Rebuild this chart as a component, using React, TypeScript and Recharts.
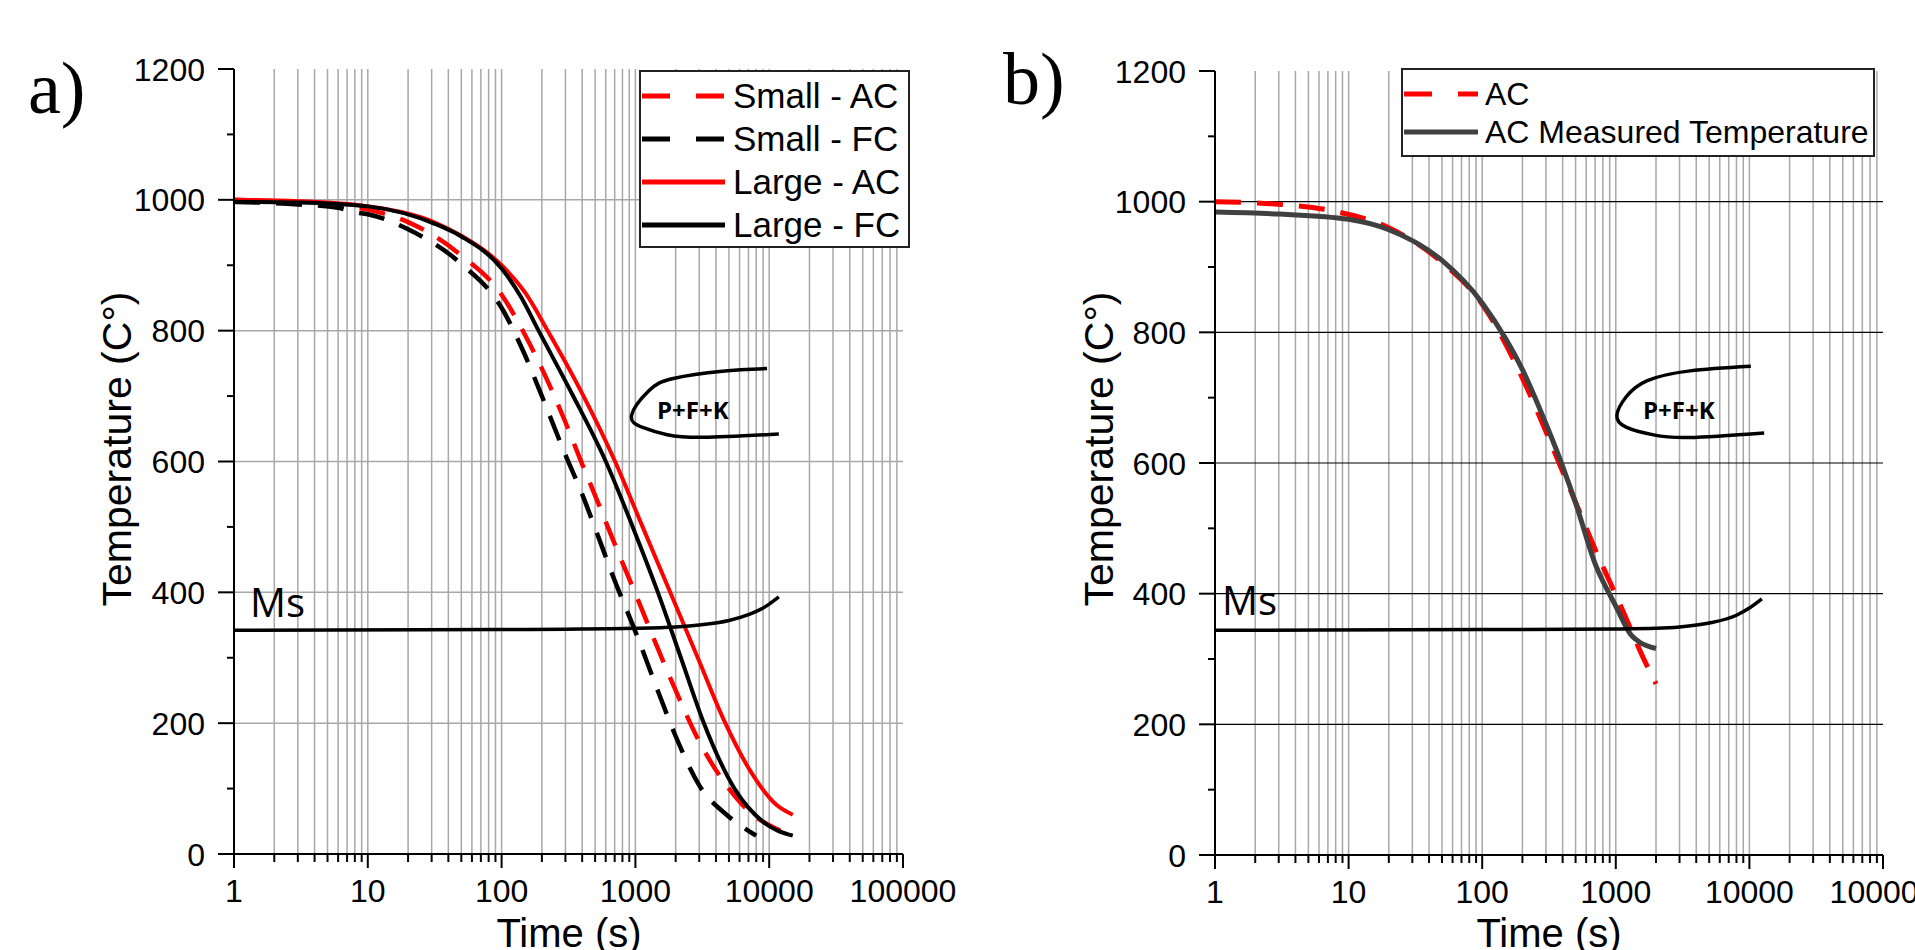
import React from 'react';
import { LineChart, Line, XAxis, YAxis, CartesianGrid, Legend } from 'recharts';

// ---------- ticks ----------
const xMajorTicks = [1, 10, 100, 1000, 10000, 100000];
const xMinorTicks = [
  2, 3, 4, 5, 6, 7, 8, 9,
  20, 30, 40, 50, 60, 70, 80, 90,
  200, 300, 400, 500, 600, 700, 800, 900,
  2000, 3000, 4000, 5000, 6000, 7000, 8000, 9000,
  20000, 30000, 40000, 50000, 60000, 70000, 80000, 90000,
];
const yMajorTicks = [0, 200, 400, 600, 800, 1000, 1200];
const yMinorTicks = [100, 300, 500, 700, 900, 1100];
const yGridValues = [200, 400, 600, 800, 1000];

const xAllTicks = [...xMajorTicks, ...xMinorTicks].sort((a, b) => a - b);
const xGridValues = xAllTicks.filter((v) => v !== 1 && v !== 100000);
const yAllTicks = [...yMajorTicks, ...yMinorTicks].sort((a, b) => a - b);

type Pt = { t: number; T: number };

// ---------- panel a data ----------
const smallAC: Pt[] = [
  { t: 1, T: 1000 }, { t: 2, T: 998 }, { t: 5, T: 993 }, { t: 10, T: 985 },
  { t: 20, T: 966 }, { t: 50, T: 915 }, { t: 100, T: 855 }, { t: 150, T: 793 },
  { t: 200, T: 742 }, { t: 300, T: 660 }, { t: 400, T: 596 }, { t: 500, T: 548 },
  { t: 700, T: 474 }, { t: 1000, T: 398 }, { t: 1500, T: 310 }, { t: 2000, T: 250 },
  { t: 3000, T: 172 }, { t: 5000, T: 100 }, { t: 8000, T: 56 }, { t: 10000, T: 44 },
  { t: 15000, T: 28 },
];
const smallFC: Pt[] = [
  { t: 1, T: 997 }, { t: 3, T: 993 }, { t: 6, T: 988 }, { t: 8, T: 981 },
  { t: 10, T: 978 }, { t: 20, T: 955 }, { t: 50, T: 902 }, { t: 100, T: 835 },
  { t: 150, T: 762 }, { t: 200, T: 700 }, { t: 300, T: 610 }, { t: 400, T: 550 },
  { t: 500, T: 498 }, { t: 700, T: 418 }, { t: 1000, T: 340 }, { t: 1500, T: 245 },
  { t: 2000, T: 180 }, { t: 3000, T: 105 }, { t: 5000, T: 57 }, { t: 8000, T: 28 },
];
const largeAC: Pt[] = [
  { t: 1, T: 1000 }, { t: 3, T: 998 }, { t: 10, T: 990 }, { t: 32, T: 965 },
  { t: 50, T: 945 }, { t: 100, T: 900 }, { t: 150, T: 858 }, { t: 221, T: 800 },
  { t: 398, T: 705 }, { t: 705, T: 600 }, { t: 1122, T: 502 }, { t: 1820, T: 400 },
  { t: 2951, T: 298 }, { t: 4700, T: 200 }, { t: 7079, T: 130 }, { t: 11500, T: 74 },
  { t: 15000, T: 60 },
];
const largeFC: Pt[] = [
  { t: 1, T: 997 }, { t: 3, T: 996 }, { t: 10, T: 990 }, { t: 32, T: 963 },
  { t: 50, T: 944 }, { t: 100, T: 895 }, { t: 140, T: 851 }, { t: 189, T: 800 },
  { t: 339, T: 702 }, { t: 601, T: 600 }, { t: 955, T: 500 }, { t: 1473, T: 400 },
  { t: 2188, T: 300 }, { t: 3250, T: 200 }, { t: 5500, T: 100 }, { t: 8900, T: 50 },
  { t: 15000, T: 28 },
];
const msLineA: Pt[] = [
  { t: 1, T: 342 }, { t: 100, T: 343 }, { t: 1000, T: 345 }, { t: 2000, T: 347 },
  { t: 3000, T: 350 }, { t: 5000, T: 357 }, { t: 7000, T: 366 }, { t: 9000, T: 376 },
  { t: 10000, T: 382 }, { t: 11800, T: 393 },
];
const cCurveA: Pt[] = [
  { t: 9630, T: 742 }, { t: 4460, T: 738 }, { t: 1918, T: 727 }, { t: 1260, T: 708 },
  { t: 937, T: 671 }, { t: 1132, T: 652 }, { t: 1727, T: 641 }, { t: 3250, T: 637 },
  { t: 11800, T: 642 },
];

// ---------- panel b data ----------
const acB: Pt[] = [
  { t: 1, T: 1000 }, { t: 3, T: 996 }, { t: 8, T: 985 }, { t: 20, T: 960 },
  { t: 50, T: 907 }, { t: 100, T: 843 }, { t: 200, T: 730 }, { t: 300, T: 648 },
  { t: 400, T: 587 }, { t: 500, T: 540 }, { t: 700, T: 468 }, { t: 1000, T: 398 },
  { t: 1300, T: 345 }, { t: 1500, T: 315 }, { t: 2000, T: 262 },
];
const measuredB: Pt[] = [
  { t: 1, T: 984 }, { t: 3, T: 981 }, { t: 10, T: 973 }, { t: 20, T: 957 },
  { t: 50, T: 910 }, { t: 100, T: 845 }, { t: 150, T: 790 }, { t: 200, T: 743 },
  { t: 300, T: 660 }, { t: 400, T: 595 }, { t: 500, T: 539 }, { t: 700, T: 446 },
  { t: 1000, T: 381 }, { t: 1300, T: 337 }, { t: 1500, T: 326 }, { t: 2000, T: 316 },
];
const msLineB: Pt[] = [
  { t: 1, T: 344 }, { t: 100, T: 345 }, { t: 1000, T: 346 }, { t: 2000, T: 347 },
  { t: 3000, T: 349 }, { t: 5000, T: 355 }, { t: 8000, T: 367 }, { t: 10000, T: 378 },
  { t: 12400, T: 392 },
];
const cCurveB: Pt[] = [
  { t: 10250, T: 748 }, { t: 3590, T: 741 }, { t: 1722, T: 726 }, { t: 1193, T: 701 },
  { t: 1019, T: 673 }, { t: 1193, T: 655 }, { t: 1914, T: 643 }, { t: 3590, T: 639 },
  { t: 12900, T: 646 },
];

type Series = {
  name: string;
  data: Pt[];
  color: string;
  width: number;
  dash?: string;
  legend: boolean;
  curve: any;
};

const DASH = '26 16';

const seriesA: Series[] = [
  { name: 'Small - AC', data: smallAC, color: '#ff0000', width: 4.5, dash: DASH, legend: true, curve: 'monotone' },
  { name: 'Small - FC', data: smallFC, color: '#000000', width: 4.5, dash: DASH, legend: true, curve: 'monotone' },
  { name: 'Large - AC', data: largeAC, color: '#ff0000', width: 4, legend: true, curve: 'monotone' },
  { name: 'Large - FC', data: largeFC, color: '#000000', width: 4, legend: true, curve: 'monotone' },
  { name: 'Ms', data: msLineA, color: '#000000', width: 3.5, legend: false, curve: 'monotone' },
  { name: 'PFK', data: cCurveA, color: '#000000', width: 3.5, legend: false, curve: 'natural' },
];
const seriesB: Series[] = [
  { name: 'AC', data: acB, color: '#ff0000', width: 5, dash: DASH, legend: true, curve: 'monotone' },
  { name: 'AC Measured Temperature', data: measuredB, color: '#404040', width: 5, legend: true, curve: 'monotone' },
  { name: 'Ms', data: msLineB, color: '#000000', width: 3.5, legend: false, curve: 'monotone' },
  { name: 'PFK', data: cCurveB, color: '#000000', width: 3.5, legend: false, curve: 'natural' },
];

const SANS = "'Liberation Sans', Arial, sans-serif";

const XTick = (props: any) => {
  const { x, y, payload } = props;
  const v = payload.value;
  const major = xMajorTicks.includes(v);
  return (
    <g>
      <line x1={x} y1={y} x2={x} y2={y + (major ? 14 : 8)} stroke="#000" strokeWidth={2} />
      {major && (
        <text x={x} y={y + 48} textAnchor="middle" fontSize={32} fontFamily={SANS} fill="#000">
          {v}
        </text>
      )}
    </g>
  );
};

const YTick = (props: any) => {
  const { x, y, payload } = props;
  const v = payload.value;
  const major = yMajorTicks.includes(v);
  return (
    <g>
      <line x1={x - (major ? 16 : 7)} y1={y} x2={x} y2={y} stroke="#000" strokeWidth={2} />
      {major && (
        <text x={x - 29} y={y} dy="0.36em" textAnchor="end" fontSize={32} fontFamily={SANS} fill="#000">
          {v}
        </text>
      )}
    </g>
  );
};

type LegendCfg = {
  left: number; top: number; width: number; height: number;
  padTop: number; rowH: number; sampleW: number; gap: number; fontSize: number;
};

const LegendBox = ({ cfg, series }: { cfg: LegendCfg; series: Series[] }) => (
  <div
    style={{
      width: cfg.width, height: cfg.height, boxSizing: 'border-box', border: '2px solid #222',
      background: '#fff', paddingTop: cfg.padTop, fontFamily: SANS, fontSize: cfg.fontSize, color: '#000',
    }}
  >
    {series.filter((s) => s.legend).map((s) => (
      <div key={s.name} style={{ display: 'flex', alignItems: 'center', height: cfg.rowH, whiteSpace: 'nowrap' }}>
        <svg width={cfg.sampleW} height={10} style={{ marginLeft: 1, marginRight: cfg.gap, flex: 'none' }}>
          <line x1={0} y1={5} x2={cfg.sampleW} y2={5} stroke={s.color} strokeWidth={5}
            strokeDasharray={s.dash ? '28 26' : undefined} />
        </svg>
        <span style={{ lineHeight: 1 }}>{s.name}</span>
      </div>
    ))}
  </div>
);

const Panel = ({ series, width, height, margin, legendCfg, hGridColor, hGridWidth }: any) => (
  <LineChart width={width} height={height} margin={margin}>
    <CartesianGrid horizontal={false} verticalValues={xGridValues} stroke="#a8a8a8" strokeWidth={1.5} />
    <CartesianGrid vertical={false} horizontalValues={yGridValues} stroke={hGridColor} strokeWidth={hGridWidth} />
    <XAxis
      dataKey="t" type="number" scale="log" domain={[1, 100000]} allowDataOverflow
      ticks={xAllTicks} interval={0} tick={(p: any) => <XTick {...p} />} tickLine={false}
      tickSize={0} tickMargin={0} axisLine={{ stroke: '#000', strokeWidth: 2 }} height={60}
    />
    <YAxis
      type="number" domain={[0, 1200]} allowDataOverflow ticks={yAllTicks} interval={0}
      tick={(p: any) => <YTick {...p} />} tickLine={false} tickSize={0} tickMargin={0}
      axisLine={{ stroke: '#000', strokeWidth: 2 }} width={100}
    />
    {series.map((s: Series) => (
      <Line
        key={s.name} data={s.data} dataKey="T" name={s.name} type={s.curve} stroke={s.color}
        strokeWidth={s.width} strokeDasharray={s.dash} dot={false} activeDot={false}
        isAnimationActive={false} legendType={s.legend ? 'line' : 'none'}
      />
    ))}
    <Legend
      layout="vertical" align="center" verticalAlign="middle"
      wrapperStyle={{ left: legendCfg.left, top: legendCfg.top, width: legendCfg.width, height: legendCfg.height }}
      content={() => <LegendBox cfg={legendCfg} series={series} />}
    />
  </LineChart>
);

const legendA: LegendCfg = { left: 639, top: 70, width: 271, height: 178, padTop: 2, rowH: 43, sampleW: 83, gap: 8, fontSize: 35 };
const legendB: LegendCfg = { left: 441, top: 68, width: 474, height: 89, padTop: 5, rowH: 38, sampleW: 74, gap: 7, fontSize: 32 };

export default function App() {
  return (
    <div style={{ position: 'absolute', left: 0, top: 0, width: 1915, height: 950, background: '#fff', overflow: 'hidden' }}>
      <div style={{ position: 'absolute', left: 0, top: 0 }}>
        <Panel series={seriesA} width={960} height={950}
          margin={{ top: 69, right: 57, bottom: 36, left: 134 }}
          legendCfg={legendA} hGridColor="#a8a8a8" hGridWidth={1.5} />
      </div>
      <div style={{ position: 'absolute', left: 960, top: 0 }}>
        <Panel series={seriesB} width={955} height={950}
          margin={{ top: 71, right: 32, bottom: 35, left: 155 }}
          legendCfg={legendB} hGridColor="#000" hGridWidth={1.2} />
      </div>
      <svg width={1915} height={950} style={{ position: 'absolute', left: 0, top: 0, pointerEvents: 'none' }}>
        <text x={28} y={113} fontFamily="'Liberation Serif', 'Times New Roman', serif" fontSize={74} fill="#000">a)</text>
        <text x={1003} y={104} fontFamily="'Liberation Serif', 'Times New Roman', serif" fontSize={74} fill="#000">b)</text>
        <text x={131} y={449} transform="rotate(-90, 131, 449)" textAnchor="middle" fontFamily={SANS} fontSize={41} fill="#000">Temperature (C°)</text>
        <text x={1113} y={449} transform="rotate(-90, 1113, 449)" textAnchor="middle" fontFamily={SANS} fontSize={41} fill="#000">Temperature (C°)</text>
        <text x={569} y={947} textAnchor="middle" fontFamily={SANS} fontSize={40} fill="#000">Time (s)</text>
        <text x={1549} y={947} textAnchor="middle" fontFamily={SANS} fontSize={40} fill="#000">Time (s)</text>
        <text x={250} y={617} fontFamily="'Open Sans', 'Noto Sans', sans-serif" fontSize={40} fill="#000">Ms</text>
        <text x={1222} y={615} fontFamily="'Open Sans', 'Noto Sans', sans-serif" fontSize={40} fill="#000">Ms</text>
        <text x={657} y={419} fontFamily="'Open Sans', 'Noto Sans', sans-serif" fontWeight="bold" fontSize={24} fill="#000">P+F+K</text>
        <text x={1643} y={419} fontFamily="'Open Sans', 'Noto Sans', sans-serif" fontWeight="bold" fontSize={24} fill="#000">P+F+K</text>
      </svg>
    </div>
  );
}
